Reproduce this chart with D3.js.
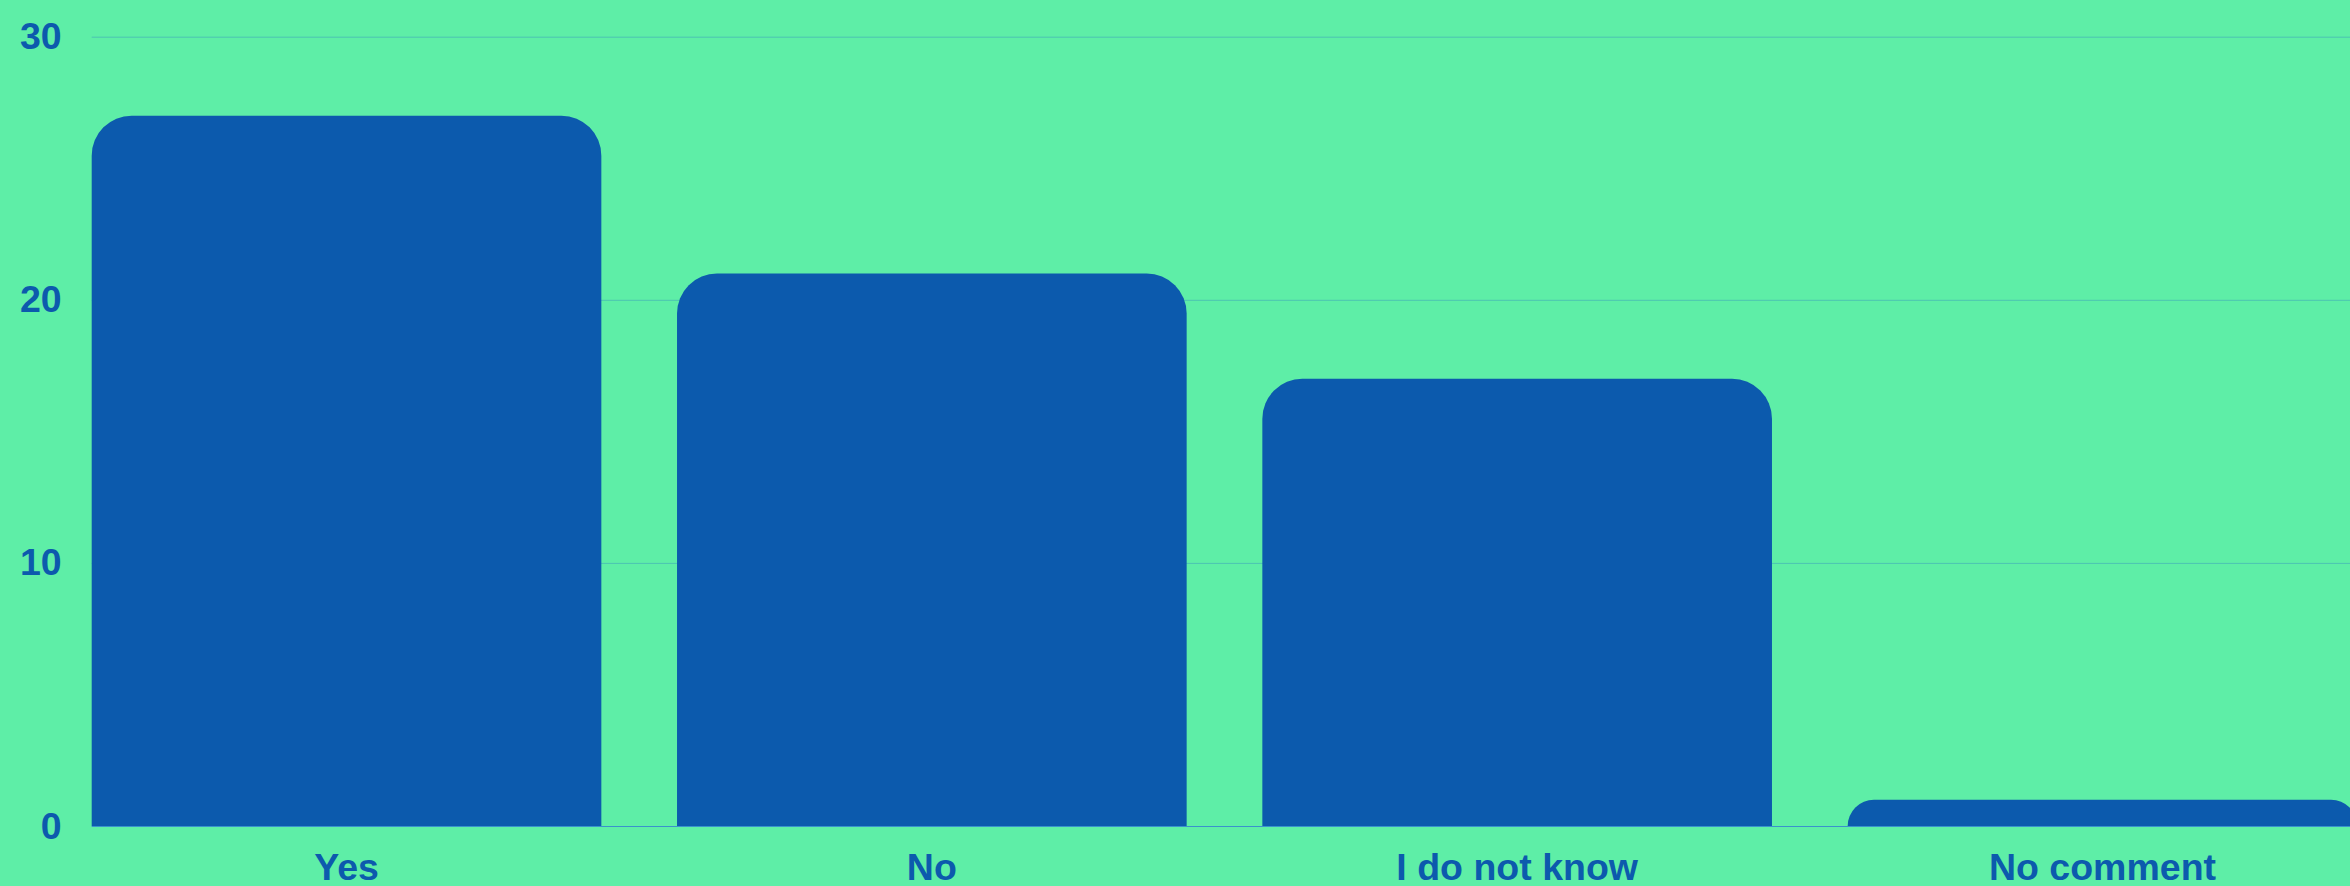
<!DOCTYPE html>
<html>
<head>
<meta charset="utf-8">
<script src="https://cdn.jsdelivr.net/npm/d3@7"></script>
<style>
  html, body { margin: 0; padding: 0; background: #5eeea7; overflow: hidden; }
  svg { display: block; }
  text { font-family: "Liberation Sans", Arial, sans-serif; font-weight: bold; }
</style>
</head>
<body>
<svg id="chart" width="2350" height="886"></svg>
<script>
// Survey answers and their counts
const categories = ["Yes", "No", "I do not know", "No comment"];
const counts = [27, 21, 17, 1];
const yTicks = [0, 10, 20, 30];

const W = 2350, H = 886;
const margin = { left: 91.7, right: -7.3, top: 36.7, bottom: 60 };
const BAR = "#0c5aad";
const TEXT = "#0c5aad";
const GRID = "#4cc3b2";
const BASE = "#3a92cc";
const FONT_SIZE = "37.5px";

const svg = d3.select("#chart");
svg.append("rect").attr("width", W).attr("height", H).attr("fill", "#5eeea7");

const x = d3.scaleBand()
  .domain(categories)
  .range([margin.left, W - margin.right])
  .paddingInner(0.1293)
  .paddingOuter(0);

const y = d3.scaleLinear()
  .domain([0, 30])
  .range([H - margin.bottom, margin.top]);

// horizontal gridlines
svg.append("g").selectAll("line")
  .data(yTicks.filter(d => d !== 0))
  .join("line")
  .attr("x1", margin.left).attr("x2", W)
  .attr("y1", d => y(d) + 0.5).attr("y2", d => y(d) + 0.5)
  .attr("stroke", GRID).attr("stroke-width", 1);

// baseline
svg.append("line")
  .attr("x1", margin.left).attr("x2", W)
  .attr("y1", y(0) + 0.5).attr("y2", y(0) + 0.5)
  .attr("stroke", BASE).attr("stroke-width", 1);

// bars with rounded top corners
function topRounded(x0, y0, w, h, r) {
  const rr = Math.min(r, h, w / 2);
  return `M${x0},${y0 + h}` +
    `V${y0 + rr}` +
    `A${rr},${rr} 0 0 1 ${x0 + rr},${y0}` +
    `H${x0 + w - rr}` +
    `A${rr},${rr} 0 0 1 ${x0 + w},${y0 + rr}` +
    `V${y0 + h}Z`;
}

svg.append("g").selectAll("path")
  .data(categories.map((c, i) => ({ c, v: counts[i] })))
  .join("path")
  .attr("fill", BAR)
  .attr("d", d => topRounded(x(d.c), y(d.v), x.bandwidth(), y(0) - y(d.v), 40));

// y axis labels
const yAxis = d3.axisLeft(y).tickValues(yTicks).tickSize(0).tickPadding(30);
const gy = svg.append("g").attr("transform", `translate(${margin.left},0)`).call(yAxis);
gy.select(".domain").remove();
gy.selectAll("text")
  .attr("fill", TEXT)
  .style("font-size", FONT_SIZE)
  .style("font-family", "'Liberation Sans', Arial, sans-serif")
  .style("font-weight", "bold");

// x axis labels
const xAxis = d3.axisBottom(x).tickSize(0).tickPadding(0);
const gx = svg.append("g").attr("transform", `translate(0,${y(0)})`).call(xAxis);
gx.select(".domain").remove();
gx.selectAll("text")
  .attr("fill", TEXT)
  .attr("dy", null)
  .attr("y", 54)
  .style("font-size", FONT_SIZE)
  .style("font-family", "'Liberation Sans', Arial, sans-serif")
  .style("font-weight", "bold");
</script>
</body>
</html>
